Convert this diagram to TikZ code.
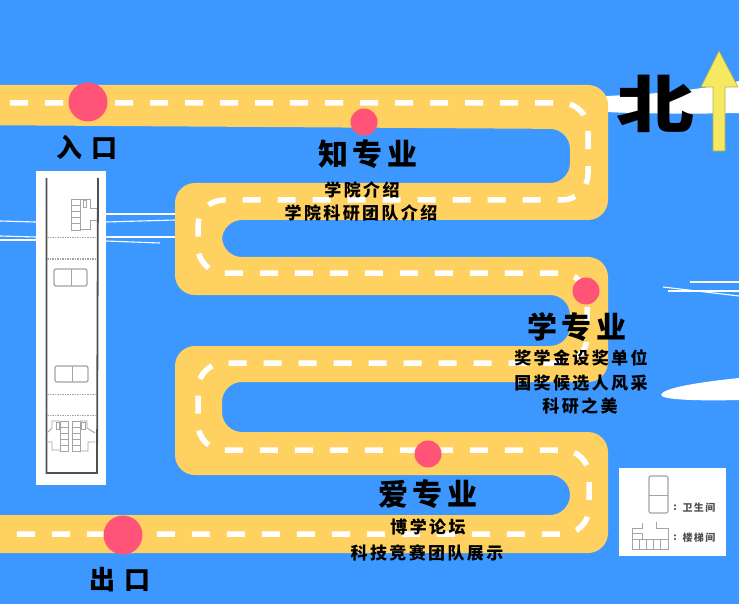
\documentclass[tikz,border=0pt]{standalone}
\usepackage{fontspec}
\usepackage{graphicx}
\usepackage{tikz}
\usetikzlibrary{positioning,calc}
\newfontfamily\cjk[LetterSpace=14]{Noto Sans CJK SC}
\definecolor{seacol}{RGB}{60,152,255}
\definecolor{roadcol}{RGB}{255,209,97}
\definecolor{dotcol}{RGB}{255,84,120}
\definecolor{arrowcol}{RGB}{244,233,96}
\definecolor{wallcol}{RGB}{80,80,80}
\definecolor{roomcol}{RGB}{160,165,165}
\tikzset{
  % large stop on the road
  bigdot/.style={circle, fill=dotcol, minimum size=39pt, inner sep=0pt},
  % small stop on the road
  smalldot/.style={circle, fill=dotcol, minimum size=27pt, inner sep=0pt},
  % stop titles and captions
  bigtitle/.style={font=\cjk\fontsize{30}{30}\selectfont\bfseries, text=black, inner sep=0pt},
  gatetitle/.style={font=\cjk\fontsize{26}{26}\selectfont\bfseries, text=black, inner sep=0pt},
  caption/.style={font=\cjk\fontsize{17}{17}\selectfont\bfseries, text=black, inner sep=0pt},
  legendtext/.style={font=\cjk\fontsize{10}{10}\selectfont\bfseries, text=wallcol, inner sep=0pt},
  % floor plan strokes
  wall/.style={draw=wallcol, line width=1.8pt},
  room/.style={draw=roomcol, line width=1.2pt, rounded corners=2pt},
  rung/.style={draw=roomcol, line width=0.9pt},
  divider/.style={draw=roomcol, line width=1pt, dash pattern=on 1.5pt off 1pt},
  streak/.style={draw=white, line width=1.1pt},
}
\begin{document}
\begin{tikzpicture}[x=1pt,y=-1pt]
  \useasboundingbox (0,0) rectangle (739,604);
  \clip (0,0) rectangle (739,604);
  \fill[seacol] (0,0) rectangle (739,604);

  % ── White streaks ──
  \draw[streak] (0,221) -- (36,222);
  \draw[streak] (0,236) -- (36,237);
  \draw[streak] (0,240) -- (36,240);
  \draw[streak] (106,214) -- (175,214);
  \draw[streak] (106,222) -- (175,220);
  \draw[streak] (106,237) -- (175,237);
  \draw[streak] (106,241) -- (160,243);
  \draw[streak] (663,287) -- (739,296);
  \draw[streak] (668,291) -- (739,291);
  \draw[streak] (690,282) -- (739,282);
  \fill[white] (661,395) .. controls (662,388) and (700,382) .. (739,378)
    -- (739,400) .. controls (700,401) and (662,400) .. (661,395);
  \fill[white] (606,96) .. controls (650,94) and (690,92) .. (739,81)
    -- (739,113) .. controls (690,114) and (650,114) .. (606,112) -- cycle;

  % ── Road ──
  \fill[roadcol, rounded corners=20pt]
    (-40,85) -- (608,85) -- (608,220) -- (222,220) -- (222,257) -- (608,257)
    -- (608,382) -- (222,382) -- (222,432) -- (608,432) -- (608,553) -- (-40,553)
    -- (-40,515) -- (570,515) -- (570,475) -- (175,475) -- (175,346) -- (570,346)
    -- (570,295) -- (175,295) -- (175,183) -- (570,183) -- (570,129) -- (-40,125) -- cycle;
  \draw[white, line width=5.5pt, dash pattern=on 18pt off 17pt, rounded corners=26pt]
    (-25,103) -- (588,103) -- (588,200) -- (198,200) -- (198,273) -- (587,273)
    -- (587,363) -- (198,363) -- (198,450) -- (589,450) -- (589,534) -- (-25,534);

  % ── Stops ──
  \node[bigdot] (entry) at (88,102) {};
  \node[smalldot] (zhi) at (364,122) {};
  \node[smalldot] (xue) at (586,291) {};
  \node[smalldot] (ai) at (428,454) {};
  \node[bigdot] (exit) at (123,535) {};

  % ── Labels ──
  \node[gatetitle] (entrylabel) at (87,147) {入 口};
  \node[bigtitle] (zhilabel) at (368,154) {知专业};
  \node[caption] (zhicap1) at (362,190) {学院介绍};
  \node[caption] (zhicap2) at (361,213) {学院科研团队介绍};
  \node[bigtitle] (xuelabel) at (577,327) {学专业};
  \node[caption] (xuecap1) at (581,358) {奖学金设奖单位};
  \node[caption] (xuecap2) at (581,383) {国奖候选人风采};
  \node[caption] (xuecap3) at (580,406) {科研之美};
  \node[bigtitle] (ailabel) at (428,494) {爱专业};
  \node[caption] (aicap1) at (428,527) {博学论坛};
  \node[caption] (aicap2) at (427,553) {科技竞赛团队展示};
  \node[gatetitle] (exitlabel) at (120,580) {出 口};

  % ── North arrow ──
  \node[font=\cjk\fontsize{78}{78}\selectfont\bfseries, inner sep=0pt] (north) at (655,104) {\scalebox{1}[0.8]{北}};
  \draw[draw=black!25!arrowcol, fill=arrowcol, line width=0.6pt]
    (719,51) -- (738,87) -- (725,87) -- (725,151) -- (713,151) -- (713,87) -- (701,87) -- cycle;

  % ── Floor plan ──
  \fill[white] (36,171) rectangle (106,485);
  \draw[wall] (46.5,178) -- (46.5,473) -- (97,473) -- (98,178);
  \foreach \y in {238,259,394,415} {
    \draw[divider] (47,\y) -- (97,\y);
  }
  \draw[room] (54,269) rectangle (87,286);
  \draw[rung] (71,269) -- (71,286);
  \draw[room] (55,366) rectangle (88,382);
  \draw[rung] (72,366) -- (72,382);
  % upper stairs
  \draw[rung] (71,199) rectangle (80,230);
  \foreach \y in {205,211,217,223} {
    \draw[rung] (71,\y) -- (80,\y);
  }
  \draw[rung] (80,199) -- (90,199) -- (90,208) -- (97,208)
    (97,220) -- (90,220) -- (90,229) -- (80,229);
  \draw[rung] (83,200) rectangle (86,207);
  % lower stairs
  \foreach \x in {60,72} {
    \draw[rung] (\x,421) rectangle ({\x+8},451);
    \foreach \y in {427,433,439,445} {
      \draw[rung] (\x,\y) -- ({\x+8},\y);
    }
  }
  \draw[rung] (60,421) -- (52,421) -- (52,428) -- (47,433)
    (47,442) -- (52,442) -- (52,450) -- (60,450);
  \draw[rung] (80,421) -- (87,421) -- (87,428) -- (95,433)
    (95,442) -- (88,442) -- (88,451) -- (80,451);
  \draw[rung] (56,422) rectangle (59,429);
  \draw[rung] (81,422) rectangle (85,429);

  % ── Legend ──
  \fill[white] (619,468) rectangle (726,556);
  \draw[room] (649,476) rectangle (668,513);
  \draw[rung] (649,495) -- (668,495);
  \node[legendtext] (colon1) at (675,508) {:};
  \node[legendtext] (bathroom) at (699,508) {卫生间};
  \draw[rung] (632,528) -- (642,528) -- (642,523) (656,522) -- (656,528) -- (668,528) -- (668,549)
    -- (632,549) -- (632,528) (632,539) -- (668,539) (632,533) -- (642,533) -- (642,539);
  \foreach \x in {639,646,653,660} {
    \draw[rung] (\x,539) -- (\x,549);
  }
  \node[legendtext] (colon2) at (675,538) {:};
  \node[legendtext] (stairs) at (699,538) {楼梯间};
\end{tikzpicture}
\end{document}
